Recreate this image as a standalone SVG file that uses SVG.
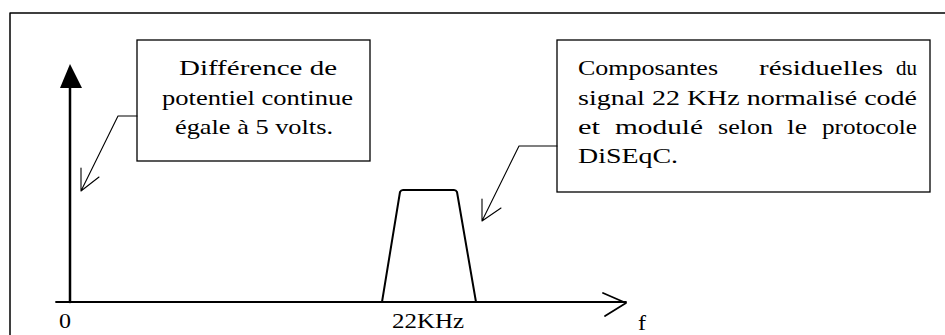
<svg xmlns="http://www.w3.org/2000/svg" width="945" height="335" viewBox="0 0 945 335">
  <style>
    .ln { fill: none; stroke: #000; stroke-linecap: round; stroke-linejoin: round; }
    .frame { stroke-width: 1.5; }
    .box { fill: #fff; stroke: #000; stroke-width: 1.3; }
    .lead { stroke-width: 1.1; }
    .t { font-family: 'Liberation Serif', 'Times New Roman', 'DejaVu Serif', serif; font-size: 22px; fill: #000; }
  </style>
  <rect width="945" height="335" fill="#fff"/>

  <!-- page frame (open on the right and bottom) -->
  <g id="frame">
    <path class="ln frame" d="M10,13 H945 M10,13 V335"/>
  </g>

  <!-- frequency axes -->
  <g id="axes">
    <path class="ln" stroke-width="2.5" d="M70,86 V302"/>
    <polygon points="70,64 60,88 82,88" fill="#000"/>
    <path class="ln" stroke-width="1.8" d="M56,302 H626"/>
    <path class="ln" stroke-width="1.8" d="M603,293 L626,303 L605,316"/>
    <text class="t" x="59" y="328" textLength="12" lengthAdjust="spacingAndGlyphs">0</text>
    <text class="t" x="392" y="328" textLength="72" lengthAdjust="spacingAndGlyphs">22KHz</text>
    <text class="t" x="638" y="330" textLength="8" lengthAdjust="spacingAndGlyphs">f</text>
  </g>

  <!-- 22 kHz band -->
  <g id="band">
    <path class="ln" stroke-width="2" d="M382,302 L400,192 Q401,190 403,190 H454 Q456,190 457,192 L476,302"/>
  </g>

  <!-- DC note -->
  <g id="note-dc">
    <rect class="box" x="137" y="40" width="233" height="121"/>
    <text class="t" x="179" y="75" textLength="158" lengthAdjust="spacingAndGlyphs">Différence de</text>
    <text class="t" x="162" y="105" textLength="191" lengthAdjust="spacingAndGlyphs">potentiel continue</text>
    <text class="t" x="175" y="134" textLength="158" lengthAdjust="spacingAndGlyphs">égale à 5 volts.</text>
  </g>

  <!-- DiSEqC note -->
  <g id="note-diseqc">
    <rect class="box" x="557" y="40" width="373" height="152"/>
    <text class="t" x="578" y="75" textLength="140" lengthAdjust="spacingAndGlyphs">Composantes</text>
    <text class="t" x="759" y="75" textLength="124" lengthAdjust="spacingAndGlyphs">résiduelles</text>
    <text class="t" x="896" y="75" textLength="21" lengthAdjust="spacingAndGlyphs">du</text>
    <text class="t" x="578" y="105" textLength="339" lengthAdjust="spacingAndGlyphs">signal 22 KHz normalisé codé</text>
    <text class="t" x="578" y="134" textLength="22" lengthAdjust="spacingAndGlyphs">et</text>
    <text class="t" x="615" y="134" textLength="88" lengthAdjust="spacingAndGlyphs">modulé</text>
    <text class="t" x="718" y="134" textLength="55" lengthAdjust="spacingAndGlyphs">selon</text>
    <text class="t" x="787" y="134" textLength="20" lengthAdjust="spacingAndGlyphs">le</text>
    <text class="t" x="822" y="134" textLength="95" lengthAdjust="spacingAndGlyphs">protocole</text>
    <text class="t" x="578" y="163" textLength="100" lengthAdjust="spacingAndGlyphs">DiSEqC.</text>
  </g>

  <!-- leader lines from the notes -->
  <g id="connectors">
    <path class="ln lead" d="M137,116 H118 L81,191 M99,177 L81,191 L81,168"/>
    <path class="ln lead" d="M557,146 H519 L482,221 M501,208 L482,221 L482,199"/>
  </g>
</svg>
